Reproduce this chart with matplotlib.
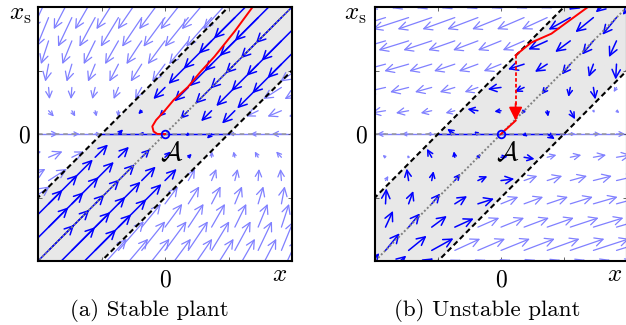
import numpy as np
import matplotlib.pyplot as plt
from matplotlib.patches import FancyArrowPatch, ArrowStyle

plt.rcParams.update({
    'mathtext.fontset': 'cm',
    'font.family': 'cmr10',
    'axes.formatter.use_mathtext': True,
})

# half width of the shaded band |xs - x| <= band
band = 0.5

# linear vector fields (rows: dx/dt, dxs/dt) inside / outside the band
A_in_stable = np.array([[-0.40, -1.00], [-0.40, -1.00]])
A_out_stable = np.array([[-0.33, -0.74], [0.00, -1.00]])
A_in_unstable = np.array([[0.66, -1.15], [-0.44, -0.15]])
A_out_unstable = np.array([[0.30, -1.00], [0.00, -0.40]])

# red trajectories
traj_a_x = [0.69, 0.55, 0.39, 0.28, 0.18, 0.07, -0.005, -0.07, -0.10, -0.09, -0.06, 0.0]
traj_a_xs = [1.00, 0.81, 0.61, 0.49, 0.37, 0.27, 0.18, 0.11, 0.06, 0.02, 0.0, 0.0]

traj_b_x = [0.69, 0.40, 0.24, 0.116]
traj_b_xs = [1.00, 0.79, 0.72, 0.62]
jump_b_x = [0.116, 0.116]
jump_b_xs = [0.62, 0.105]
tail_b_x = [0.116, 0.0]
tail_b_xs = [0.105, 0.0]

grid = np.linspace(-1.1, 1.1, 13)
scale = 0.25

fig = plt.figure(figsize=(6.26, 3.25), dpi=100)
ax_a = fig.add_axes([38/626, 64/325, 254/626, 254/325])
ax_b = fig.add_axes([375/626, 64/325, 252/626, 254/325])


def draw_field(ax, A_in, A_out):
    for xi in grid:
        for yi in grid:
            inside = abs(yi - xi) <= band + 1e-9
            M = A_in if inside else A_out
            u, v = M @ np.array([xi, yi])
            L = np.hypot(u, v) * scale
            if L < 1e-3:
                continue
            hs = min(1.0, L / 0.12)
            st = ArrowStyle('->', head_length=0.6 * hs, head_width=0.3 * hs)
            col = (0, 0, 1) if inside else (0.5, 0.5, 1)
            lw = 1.1 if inside else 0.9
            ax.add_patch(FancyArrowPatch((xi, yi), (xi + u * scale, yi + v * scale),
                                         arrowstyle=st, mutation_scale=10, lw=lw,
                                         color=col, shrinkA=0, shrinkB=0, zorder=2))


def setup(ax, A_in, A_out):
    ax.set_xlim(-1, 1)
    ax.set_ylim(-1, 1)
    xb = np.array([-1.5, 1.5])
    ax.fill_between(xb, xb - band, xb + band, color='#e8e8e8', lw=0, zorder=0)
    draw_field(ax, A_in, A_out)
    # xs = 0 line
    ax.plot([-1, 1], [0, 0], color=(0.5, 0.5, 1), lw=1.0, zorder=1)
    ax.plot([-band, band], [0, 0], color=(0, 0, 1), lw=1.0, zorder=1)
    ax.plot([-1, 1], [0, 0], color='0.6', lw=1.1, dashes=(3, 2.5), zorder=3)
    ax.plot(xb, xb, color='0.5', lw=1.4, dashes=(1, 1.1), zorder=3)
    ax.plot(xb, xb + band, color='k', lw=1.5, dashes=(2.6, 1.6), zorder=3)
    ax.plot(xb, xb - band, color='k', lw=1.5, dashes=(2.6, 1.6), zorder=3)
    for s in ax.spines.values():
        s.set_linewidth(1.5)
        s.set_zorder(6)
    ax.set_xticks([-0.5, 0, 0.5])
    ax.set_xticklabels(['', '0', ''])
    ax.set_yticks([-0.5, 0, 0.5])
    ax.set_yticklabels(['', '0', ''])
    ax.tick_params(direction='in', length=3, width=0.6, color='0.3',
                   top=True, right=True, labelsize=17, pad=6)


setup(ax_a, A_in_stable, A_out_stable)
setup(ax_b, A_in_unstable, A_out_unstable)

ax_a.plot(traj_a_x, traj_a_xs, color='red', lw=1.4, zorder=4)
ax_b.plot(traj_b_x, traj_b_xs, color='red', lw=1.4, zorder=4)
ax_b.plot(jump_b_x, [jump_b_xs[0], 0.22], color='red', lw=1.3, dashes=(2, 1.2), zorder=4)
ax_b.annotate('', xy=(jump_b_x[1], jump_b_xs[1]), xytext=(jump_b_x[0], 0.24),
              arrowprops=dict(arrowstyle='-|>,head_length=0.8,head_width=0.4',
                              color='red', lw=1.3, shrinkA=0, shrinkB=0), zorder=4)
ax_b.plot(tail_b_x, tail_b_xs, color='red', lw=1.4, zorder=4)

for ax, xl, xsl in [(ax_a, 0.953, -0.071), (ax_b, 0.949, -0.079)]:
    ax.plot([0], [0], 'o', ms=5.5, mfc='none', mec='blue', mew=1.3, zorder=5)
    ax.text(0.05, -0.15, r'$\mathcal{A}$', ha='center', va='center', fontsize=19, zorder=5)
    ax.text(xl, -0.055, r'$x$', transform=ax.transAxes, ha='center', va='center', fontsize=18)
    ax.text(xsl, 0.968, r'$x_\mathrm{s}$', transform=ax.transAxes, ha='center', va='center', fontsize=18)

fig.text(149/626, 1 - 311/325, '(a) Stable plant', ha='center', va='center', fontsize=16.5)
fig.text(487/626, 1 - 311/325, '(b) Unstable plant', ha='center', va='center', fontsize=16.5)

fig.savefig('out.png', dpi=100)
